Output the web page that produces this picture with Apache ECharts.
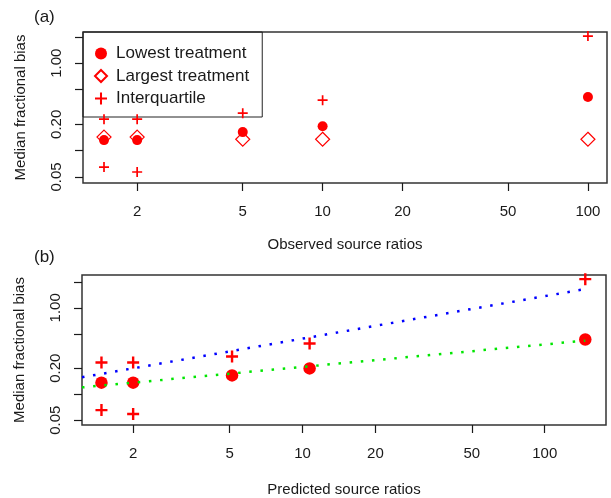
<!DOCTYPE html>
<html>
<head>
<meta charset="utf-8">
<script src="https://cdn.jsdelivr.net/npm/echarts@6/dist/echarts.min.js"></script>
<style>
  html, body { margin: 0; padding: 0; background: #fff; }
  #chart { width: 611px; height: 498px; }
</style>
</head>
<body>
<div id="chart"></div>
<script>
// Panel (a): observed source ratios
const ratioA = [1.5, 2, 5, 10, 100];
const lowestA = [0.132, 0.132, 0.163, 0.19, 0.41];
const largestA = [0.143, 0.143, 0.135, 0.135, 0.135];
const iqrHighA = [0.229, 0.229, 0.268, 0.378, 2.04];
const iqrLowA = [0.065, 0.057]; // only the two smallest ratios have a visible lower quartile

// Panel (b): predicted source ratios
const ratioB = [1.48, 2, 5.12, 10.7, 147];
const lowestB = [0.136, 0.136, 0.165, 0.199, 0.43];
const iqrHighB = [0.233, 0.233, 0.273, 0.386, 2.15];
const iqrLowB = [0.0655, 0.059];

// Dotted fit lines in panel (b), end points
const fitX = [1.23, 147];
const fitBlue = [0.157, 1.65];
const fitGreen = [0.12, 0.417];

const xTicks = [2, 5, 10, 20, 50, 100];
const yTicks = [0.05, 0.1, 0.2, 0.5, 1, 2];
const yLabels = [0.05, 0.2, 1];

const FONT = "'Liberation Sans', Arial, sans-serif";
const RED = "#ff0000";
const INK = "#1a1a1a";
// filled plus signs, R's pch 3
const PLUS_THIN = "path://M4.15,0H5.85V4.15H10V5.85H5.85V10H4.15V5.85H0V4.15H4.15Z";
const PLUS_BOLD = "path://M4,0H6V4H10V6H6V10H4V6H0V4H4Z";

const pairs = (xs, ys) => ys.map((y, i) => [xs[i], y]);

function xAxis(gridIndex, min, max, name, nameGap) {
  return {
    type: "log", gridIndex, min, max, name,
    nameLocation: "middle", nameGap,
    nameTextStyle: { fontFamily: FONT, fontSize: 15, color: INK },
    axisLine: { show: false },
    axisTick: { show: true, length: 8, customValues: xTicks, lineStyle: { color: INK, width: 1.2 } },
    axisLabel: { customValues: xTicks, margin: 21, fontFamily: FONT, fontSize: 15, color: INK,
                 formatter: (v) => String(Math.round(v)) },
    splitLine: { show: false },
    minorTick: { show: false },
  };
}

function yAxis(gridIndex, min, max) {
  return {
    type: "log", gridIndex, min, max,
    name: "Median fractional bias",
    nameLocation: "middle", nameGap: 55,
    nameTextStyle: { fontFamily: FONT, fontSize: 15, color: INK },
    axisLine: { show: false },
    axisTick: { show: true, length: 8, customValues: yTicks, lineStyle: { color: INK, width: 1.2 } },
    axisLabel: { customValues: yLabels, rotate: 90, margin: 19, fontFamily: FONT, fontSize: 15, color: INK,
                 formatter: (v) => Number(v).toFixed(2) },
    splitLine: { show: false },
    minorTick: { show: false },
  };
}

const gridBox = { show: true, borderColor: "#333", borderWidth: 1.5, backgroundColor: "transparent" };
const solid = (extra) => ({ color: RED, opacity: 1, ...extra });

const option = {
  animation: false,
  backgroundColor: "#fff",
  textStyle: { fontFamily: FONT },
  title: [
    { text: "(a)", left: 34, top: 9, padding: 0, textStyle: { fontFamily: FONT, fontSize: 17, fontWeight: "normal", color: INK } },
    { text: "(b)", left: 34, top: 249, padding: 0, textStyle: { fontFamily: FONT, fontSize: 17, fontWeight: "normal", color: INK } },
  ],
  grid: [
    { left: 83, top: 32, width: 524, height: 151, ...gridBox },
    { left: 82, top: 275, width: 524, height: 151, ...gridBox },
  ],
  xAxis: [
    xAxis(0, 1.25, 118, "Observed source ratios", 54),
    xAxis(1, 1.23, 179, "Predicted source ratios", 57),
  ],
  yAxis: [
    yAxis(0, 0.0427, 2.27),
    yAxis(1, 0.044, 2.4),
  ],
  legend: {
    left: 83, top: 32, orient: "vertical", z: 1,
    backgroundColor: "transparent", borderColor: "#222", borderWidth: 1,
    padding: [13, 13, 10, 11],
    itemWidth: 12, itemHeight: 12, itemGap: 5.5,
    textStyle: { fontFamily: FONT, fontSize: 17, color: INK, padding: [0, 0, 0, 4] },
    selectedMode: false,
    data: [
      { name: "Lowest treatment", icon: "circle" },
      { name: "Largest treatment", icon: "diamond" },
      { name: "Interquartile", icon: PLUS_THIN },
    ],
  },
  series: [
    {
      name: "Largest treatment", type: "scatter", xAxisIndex: 0, yAxisIndex: 0,
      symbol: "diamond", symbolSize: 14,
      itemStyle: { color: "rgba(255,255,255,0)", borderColor: RED, borderWidth: 1.2, opacity: 1 },
      data: pairs(ratioA, largestA), z: 3,
    },
    {
      name: "Lowest treatment", type: "scatter", xAxisIndex: 0, yAxisIndex: 0,
      symbol: "circle", symbolSize: 10, itemStyle: solid(),
      data: pairs(ratioA, lowestA), z: 2,
    },
    {
      name: "Interquartile", type: "scatter", xAxisIndex: 0, yAxisIndex: 0,
      symbol: PLUS_THIN, symbolSize: 10, itemStyle: solid(),
      data: pairs(ratioA, iqrHighA).concat(pairs(ratioA, iqrLowA)), z: 2,
    },
    {
      name: "Lowest (b)", type: "scatter", xAxisIndex: 1, yAxisIndex: 1,
      symbol: "circle", symbolSize: 12.5, itemStyle: solid(),
      data: pairs(ratioB, lowestB), z: 2,
    },
    {
      name: "Interquartile (b)", type: "scatter", xAxisIndex: 1, yAxisIndex: 1,
      symbol: PLUS_BOLD, symbolSize: 12, itemStyle: solid(),
      data: pairs(ratioB, iqrHighB).concat(pairs(ratioB, iqrLowB)), z: 2,
    },
    {
      name: "Fit upper", type: "line", xAxisIndex: 1, yAxisIndex: 1,
      showSymbol: false, symbol: "none", z: 4,
      lineStyle: { color: "#0000ff", width: 2.5, type: [2.5, 8.7], cap: "butt" },
      data: pairs(fitX, fitBlue),
    },
    {
      name: "Fit median", type: "line", xAxisIndex: 1, yAxisIndex: 1,
      showSymbol: false, symbol: "none", z: 4,
      lineStyle: { color: "#00e600", width: 2.5, type: [2.5, 8.7], cap: "butt" },
      data: pairs(fitX, fitGreen),
    },
  ],
};

const chart = echarts.init(document.getElementById("chart"));
chart.setOption(option);
</script>
</body>
</html>
